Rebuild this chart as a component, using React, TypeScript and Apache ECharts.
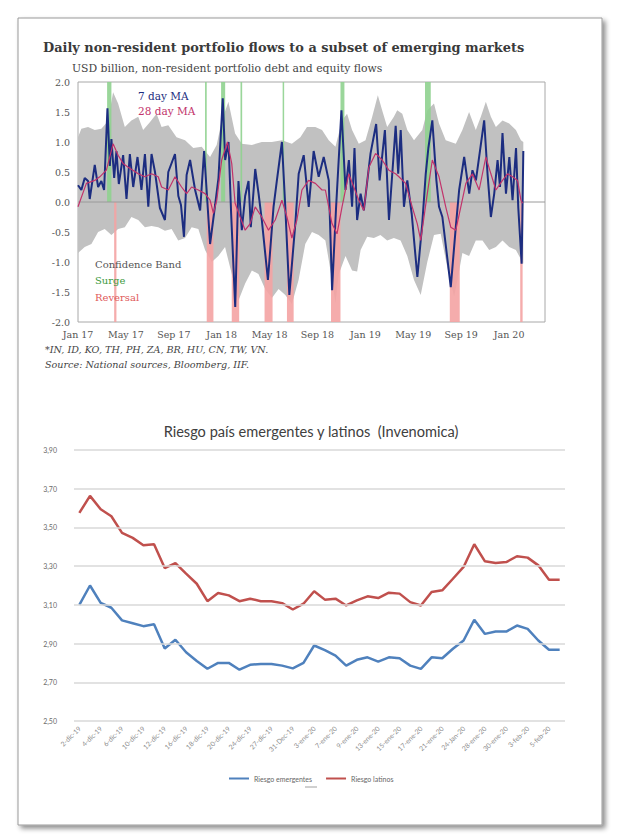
import React, { useEffect, useRef } from "react";
import * as echarts from "echarts";

// ---------- Top chart (IIF) ----------
const topTitle = "Daily non-resident portfolio flows to a subset of emerging markets";
const topSubtitle = "USD billion, non-resident portfolio debt and equity flows";
const topTickLabels = ["Jan 17", "May 17", "Sep 17", "Jan 18", "May 18", "Sep 18", "Jan 19", "May 19", "Sep 19", "Jan 20"];
const footnotes = ["*IN, ID, KO, TH, PH, ZA, BR, HU, CN, TW, VN.", "Source: National sources, Bloomberg, IIF."];
const legendTop = ["7 day MA", "28 day MA"];
const legendBottom = ["Confidence Band", "Surge", "Reversal"];

// x = months since Jan 2017
const ma7Months = [0,0.28,0.56,0.84,0.98,1.40,1.68,1.95,2.18,2.46,2.66,2.79,3.02,3.21,3.41,3.77,4.05,4.33,4.61,4.97,5.30,5.59,5.87,6.14,6.43,6.84,7.26,7.54,8.10,8.38,8.60,8.85,9.07,9.36,9.78,10.20,10.53,11.03,11.45,11.73,12.09,12.29,12.57,12.79,13.13,13.40,13.68,13.96,14.24,14.43,14.80,15.08,15.35,15.86,16.33,16.61,17.03,17.31,17.65,18.15,18.43,18.85,19.27,19.68,20.10,20.52,20.94,21.22,21.55,22.00,22.34,22.62,22.89,23.09,23.31,23.60,23.87,24.43,24.90,25.19,25.63,25.97,26.53,26.74,26.95,27.22,27.50,27.87,28.34,28.75,29.04,29.26,29.59,29.93,30.15,30.43,31.13,31.55,31.83,32.25,32.67,32.94,33.23,33.92,34.20,34.48,34.76,35.04,35.24,35.45,35.74,36.02,36.29,36.58,36.77,37.05,37.19];
const ma7Values = [0.28,0.2,0.4,0.35,0.05,0.62,0.25,0.35,0.2,1.56,0.6,1.05,0.4,0.85,0.3,0.78,0.05,0.8,0.25,0.75,0.2,0.8,-0.08,0.8,0.5,-0.1,-0.3,0.5,0.8,0.1,-0.05,-0.58,0.45,0.7,0.2,-0.14,0.85,-0.7,-0.05,0.4,1.73,0.7,1.0,-0.2,-1.75,0.35,-0.47,0.1,0.35,-0.42,0.55,0.14,-0.3,-1.3,-0.08,0.36,1.0,-0.08,-1.55,-0.36,0.47,0.78,-0.08,0.85,0.42,0.75,0.36,-1.47,-0.1,1.53,0.2,0.7,-0.08,0.9,-0.3,0.14,-0.14,0.81,1.3,0.36,1.2,-0.3,1.27,0.47,1.2,-0.08,0.36,-0.2,-1.25,-0.36,0.47,0.9,1.36,0.36,-0.08,-0.25,-1.42,-0.42,0.2,0.75,0.14,0.53,0.36,1.36,0.47,-0.25,0.14,0.7,0.25,1.15,0.14,0.75,0.03,0.9,-0.1,-1.03,0.85];

const ma28Months = [0,0.70,1.40,1.82,2.37,2.93,3.35,3.77,4.19,5.03,5.59,6.14,6.70,6.98,7.54,8.10,8.65,9.07,9.49,10.05,10.61,11.03,11.31,11.59,12.00,12.48,12.84,13.12,13.54,13.96,14.38,14.80,15.35,15.91,16.47,17.03,17.45,17.86,18.28,18.70,19.26,19.82,20.38,20.66,21.21,21.63,22.05,22.61,23.03,23.45,23.87,24.29,24.85,25.40,25.96,26.52,26.80,27.36,27.91,28.33,28.62,29.17,29.59,30.15,30.71,31.13,31.55,31.97,32.39,32.94,33.50,34.06,34.48,34.90,35.45,35.87,36.29,36.71,36.99,37.13];
const ma28Values = [-0.08,0.31,0.36,0.42,0.53,0.97,0.78,0.64,0.58,0.47,0.42,0.47,0.42,0.25,0.2,0.42,0.25,0.14,0.25,0.2,0.14,0.03,-0.19,0.03,0.7,1.0,0.64,-0.02,-0.25,-0.47,-0.36,-0.08,-0.25,-0.47,-0.3,0.03,-0.25,-0.6,-0.3,0.2,0.36,0.31,0.2,0.2,-0.36,-0.53,-0.08,0.47,0.25,0.03,-0.14,0.58,0.81,0.7,0.53,0.47,0.42,0.31,-0.08,-0.36,-0.64,0.14,0.7,0.42,-0.08,-0.42,-0.47,-0.08,0.31,0.47,0.2,0.75,0.47,0.2,0.36,0.47,0.42,0.36,0.03,-0.02];

const bandUpperMonths = [0,0.28,0.84,1.40,1.95,2.51,2.93,3.35,3.91,4.46,5.03,5.44,6.00,6.56,6.98,7.54,8.23,8.94,9.63,10.33,11.03,11.58,12.00,12.56,13.12,13.68,14.52,15.35,16.19,17.03,17.86,18.57,19.12,19.82,20.38,20.94,21.50,22.05,22.47,22.89,23.45,24.01,24.57,25.04,25.40,25.82,26.38,26.66,27.08,27.50,28.06,28.75,29.17,29.73,30.15,30.71,31.55,32.10,32.66,33.22,33.64,34.06,34.48,34.90,35.45,36.01,36.57,36.99,37.19];
const bandUpper = [1.08,1.22,1.25,1.2,1.22,1.35,1.83,1.64,1.25,1.36,1.42,1.2,1.33,1.47,1.25,1.28,1.08,1.03,0.9,0.92,0.75,0.95,1.35,1.67,1.14,0.97,0.95,1.0,1.0,1.03,0.97,1.08,1.25,1.25,1.2,1.03,0.92,1.36,1.47,1.2,0.97,1.03,1.42,1.78,1.53,1.25,1.42,1.53,1.47,1.2,1.03,1.2,1.53,1.64,1.31,1.03,0.97,1.2,1.5,1.2,1.42,1.67,1.42,1.25,1.36,1.31,1.2,1.03,1.0];
const bandLowerMonths = [0,0.56,1.12,1.68,2.23,2.79,3.35,3.91,4.46,5.03,5.59,6.14,6.70,7.26,7.82,8.37,8.94,9.49,10.05,10.61,11.17,11.72,12.28,12.84,13.40,13.96,14.52,15.07,15.63,16.19,16.75,17.31,17.86,18.42,18.98,19.54,20.10,20.66,21.22,21.50,21.78,22.34,22.89,23.31,23.60,24.15,24.71,25.26,25.82,26.38,26.94,27.50,28.06,28.62,29.17,29.73,30.29,30.85,31.41,31.69,32.10,32.66,33.22,33.78,34.34,34.90,35.45,36.01,36.57,37.19];
const bandLower = [-0.85,-0.75,-0.7,-0.5,-0.45,-0.55,-0.45,-0.42,-0.25,-0.3,-0.42,-0.4,-0.42,-0.48,-0.45,-0.64,-0.6,-0.42,-0.45,-0.8,-1.0,-0.9,-0.75,-1.2,-1.64,-1.36,-1.14,-1.2,-1.45,-1.6,-1.45,-1.55,-1.7,-1.3,-0.7,-0.5,-0.55,-0.64,-1.3,-1.69,-1.2,-0.9,-1.14,-1.16,-0.8,-0.58,-0.6,-0.55,-0.64,-0.6,-0.64,-0.9,-1.3,-1.55,-1.0,-0.55,-0.53,-1.1,-1.58,-1.3,-0.85,-0.9,-0.64,-0.64,-0.8,-0.75,-0.64,-0.75,-0.8,-1.03];

const surgeStart = [2.43, 10.61, 11.95, 13.57, 17.09, 21.92, 28.98];
const surgeEnd = [2.79, 10.75, 12.29, 13.71, 17.19, 22.25, 29.46];
const reversalStart = [3.02, 10.75, 12.84, 15.58, 17.45, 21.13, 31.05, 36.93];
const reversalEnd = [3.21, 11.31, 13.46, 16.25, 18.01, 21.92, 31.88, 37.13];

// ---------- Bottom chart (Invenomica) ----------
const bottomTitle = "Riesgo país emergentes y latinos  (Invenomica)";
const riskDates = ["2-dic-19","3-dic-19","4-dic-19","5-dic-19","6-dic-19","9-dic-19","10-dic-19","11-dic-19","12-dic-19","13-dic-19","16-dic-19","17-dic-19","18-dic-19","19-dic-19","20-dic-19","23-dic-19","24-dic-19","26-dic-19","27-dic-19","30-dic-19","31-Dec-19","2-ene-20","3-ene-20","6-ene-20","7-ene-20","8-ene-20","9-ene-20","10-ene-20","13-ene-20","14-ene-20","15-ene-20","16-ene-20","17-ene-20","20-ene-20","21-ene-20","22-ene-20","24-Jan-20","27-ene-20","28-ene-20","29-ene-20","30-ene-20","31-ene-20","3-feb-20","4-feb-20","5-feb-20","6-feb-20"];
const riskEmergentes = [3.10,3.20,3.11,3.085,3.02,3.005,2.99,3.00,2.875,2.92,2.855,2.81,2.77,2.80,2.80,2.765,2.79,2.795,2.795,2.786,2.772,2.80,2.89,2.866,2.838,2.786,2.816,2.829,2.807,2.829,2.824,2.786,2.769,2.829,2.824,2.873,2.916,3.023,2.95,2.962,2.962,2.993,2.976,2.916,2.868,2.868];
const riskLatinos = [3.575,3.663,3.594,3.558,3.472,3.446,3.408,3.413,3.29,3.316,3.261,3.209,3.119,3.161,3.149,3.119,3.132,3.119,3.119,3.109,3.076,3.106,3.17,3.127,3.132,3.097,3.123,3.144,3.135,3.163,3.158,3.114,3.097,3.166,3.175,3.235,3.296,3.413,3.325,3.316,3.321,3.351,3.344,3.304,3.23,3.23];
const riskSeriesNames = ["Riesgo emergentes", "Riesgo latinos"];
const riskGridValues = [2.5, 2.7, 2.9, 3.1, 3.3, 3.5, 3.7, 3.9];

const SERIF = "'DejaVu Serif', 'Liberation Serif', serif";
const SANS = "Lato, 'Open Sans', sans-serif";
const NAVY = "#1c2d80";
const CRIMSON = "#c2336b";
const BAND = "#c1c1c1";
const SURGE = "#8fd28f";
const REVERSAL = "#f4a3a3";

export default function App() {
  const ref = useRef<HTMLDivElement>(null);
  useEffect(() => {
    if (!ref.current) return;
    const chart = echarts.init(ref.current, undefined, { renderer: "svg" });
    const zip = (xs: number[], ys: number[]) => xs.map((x, i) => [x, ys[i]]);
    const bars = [
      ...surgeStart.map((s, i) => [s, surgeEnd[i], 2]),
      ...reversalStart.map((s, i) => [s, reversalEnd[i], -2]),
    ];
    const option: any = {
      animation: false,
      backgroundColor: "#ffffff",
      grid: [
        { left: 78, top: 82, width: 467, height: 240, show: true, borderColor: "#a8a8a8", borderWidth: 1, backgroundColor: "transparent" },
        { left: 74, top: 450, width: 491, height: 271 },
      ],
      xAxis: [
        {
          gridIndex: 0, type: "value", min: 0, max: 39, interval: 4,
          axisLine: { show: false }, axisTick: { show: false }, splitLine: { show: false },
          axisLabel: {
            margin: 7, color: "#555", fontFamily: SERIF, fontSize: 9.5,
            formatter: (v: number) => (Math.abs(v % 4) < 1e-6 ? topTickLabels[Math.round(v / 4)] || "" : ""),
          },
        },
        {
          gridIndex: 1, type: "category", data: riskDates, boundaryGap: true,
          axisLine: { show: false }, axisTick: { show: false },
          axisLabel: { interval: 1, rotate: 45, margin: 6, color: "#8a8a8a", fontFamily: SANS, fontSize: 6.8 },
        },
      ],
      yAxis: [
        {
          gridIndex: 0, type: "value", min: -2, max: 2, interval: 0.5,
          axisLine: { show: false }, axisTick: { show: false }, splitLine: { show: false },
          axisLabel: { margin: 8, color: "#555", fontFamily: SERIF, fontSize: 9.5, formatter: (v: number) => v.toFixed(1) },
        },
        {
          gridIndex: 1, type: "value", min: 2.5, max: 3.9, interval: 0.1,
          axisLine: { show: false }, axisTick: { show: false }, splitLine: { show: false },
          axisLabel: {
            margin: 17, color: "#6a6a6a", fontFamily: SANS, fontSize: 7,
            formatter: (v: number) => (Math.round(v * 10) % 2 === 1 ? v.toFixed(2).replace(".", ",") : ""),
          },
        },
      ],
      legend: {
        data: riskSeriesNames, left: 224, top: 770, itemWidth: 20, itemHeight: 6, itemGap: 14,
        textStyle: { fontFamily: SANS, fontSize: 7, color: "#666" }, icon: "path://M0,2L20,2L20,4L0,4Z",
      },
      series: [
        {
          type: "custom", name: "band", xAxisIndex: 0, yAxisIndex: 0, z: 1, silent: true,
          data: [[0, 0]], encode: { x: 0, y: 1 },
          renderItem: (_p: any, api: any) => {
            const pts: number[][] = [];
            bandUpperMonths.forEach((m, i) => pts.push(api.coord([m, bandUpper[i]])));
            for (let i = bandLowerMonths.length - 1; i >= 0; i--) pts.push(api.coord([bandLowerMonths[i], bandLower[i]]));
            return { type: "polygon", shape: { points: pts }, style: { fill: BAND } };
          },
        },
        {
          type: "custom", name: "events", xAxisIndex: 0, yAxisIndex: 0, z: 2, silent: true,
          data: bars, encode: { x: [0, 1], y: 2 },
          renderItem: (_p: any, api: any) => {
            const s = api.value(0), e = api.value(1), top = api.value(2);
            const p0 = api.coord([s, 0]);
            const p1 = api.coord([e, top]);
            return {
              type: "rect",
              shape: { x: p0[0], y: Math.min(p0[1], p1[1]), width: Math.max(p1[0] - p0[0], 1.5), height: Math.abs(p1[1] - p0[1]) },
              style: { fill: top > 0 ? SURGE : REVERSAL, opacity: 0.9 },
            };
          },
        },
        {
          type: "line", name: "zero", xAxisIndex: 0, yAxisIndex: 0, z: 3, silent: true, symbol: "none",
          data: [[0, 0], [39, 0]], lineStyle: { color: "#9a9a9a", width: 1 },
        },
        {
          type: "line", name: "7 day MA", xAxisIndex: 0, yAxisIndex: 0, z: 4, symbol: "none",
          data: zip(ma7Months, ma7Values), lineStyle: { color: NAVY, width: 2 },
        },
        {
          type: "line", name: "28 day MA", xAxisIndex: 0, yAxisIndex: 0, z: 5, symbol: "none",
          data: zip(ma28Months, ma28Values), lineStyle: { color: CRIMSON, width: 1.2 },
        },
        {
          type: "line", name: "gridlines", xAxisIndex: 1, yAxisIndex: 1, z: 1, symbol: "none", silent: true,
          data: [], markLine: {
            silent: true, symbol: "none", label: { show: false },
            lineStyle: { color: "#d9d9d9", width: 1.5, type: "solid" },
            data: riskGridValues.map((v) => ({ yAxis: v })),
          },
        },
        {
          type: "line", name: riskSeriesNames[0], xAxisIndex: 1, yAxisIndex: 1, z: 3, symbol: "none",
          data: riskEmergentes, color: "#4f81bd", lineStyle: { color: "#4f81bd", width: 2.5 },
        },
        {
          type: "line", name: riskSeriesNames[1], xAxisIndex: 1, yAxisIndex: 1, z: 3, symbol: "none",
          data: riskLatinos, color: "#c0504d", lineStyle: { color: "#c0504d", width: 2.5 },
        },
      ],
      graphic: [
        {
          type: "rect", z: -10, silent: true, shape: { x: 18, y: 18, width: 584, height: 807 },
          style: { fill: "#ffffff", stroke: "#9a9a9a", lineWidth: 1, shadowBlur: 5, shadowOffsetX: 3, shadowOffsetY: 3, shadowColor: "rgba(0,0,0,0.45)" },
        },
        { type: "text", x: 43, y: 47, style: { text: topTitle, font: `bold 12.9px ${SERIF}`, fill: "#3a3a3a", textVerticalAlign: "middle" } },
        { type: "text", x: 72, y: 68, style: { text: topSubtitle, font: `10.8px ${SERIF}`, fill: "#444", textVerticalAlign: "middle" } },
        { type: "text", x: 138, y: 96, z: 10, style: { text: legendTop[0], font: `10.5px ${SERIF}`, fill: NAVY, textVerticalAlign: "middle" } },
        { type: "text", x: 138, y: 111, z: 10, style: { text: legendTop[1], font: `10.5px ${SERIF}`, fill: CRIMSON, textVerticalAlign: "middle" } },
        { type: "text", x: 95, y: 264, z: 10, style: { text: legendBottom[0], font: `10px ${SERIF}`, fill: "#555", textVerticalAlign: "middle" } },
        { type: "text", x: 95, y: 280, z: 10, style: { text: legendBottom[1], font: `10px ${SERIF}`, fill: "#3d9a3d", textVerticalAlign: "middle" } },
        { type: "text", x: 95, y: 297, z: 10, style: { text: legendBottom[2], font: `10px ${SERIF}`, fill: "#e05a5a", textVerticalAlign: "middle" } },
        { type: "text", x: 45, y: 349, style: { text: footnotes[0], font: `italic 9.6px ${SERIF}`, fill: "#444", textVerticalAlign: "middle" } },
        { type: "text", x: 45, y: 364, style: { text: footnotes[1], font: `italic 9.6px ${SERIF}`, fill: "#444", textVerticalAlign: "middle" } },
        { type: "text", x: 311, y: 431, style: { text: bottomTitle, font: `14.6px ${SANS}`, fill: "#404040", textAlign: "center", textVerticalAlign: "middle" } },
        { type: "line", shape: { x1: 305, y1: 787, x2: 317, y2: 787 }, style: { stroke: "#a0a0a0", lineWidth: 1 } },
      ],
    };
    chart.setOption(option);
    return () => chart.dispose();
  }, []);
  return <div ref={ref} style={{ position: "fixed", left: 0, top: 0, width: 620, height: 840, background: "#fff" }} />;
}
